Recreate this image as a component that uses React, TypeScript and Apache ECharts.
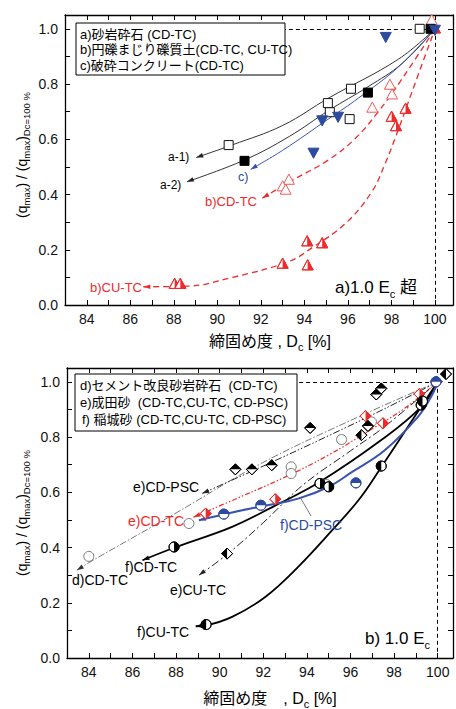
import React, { useEffect, useRef } from "react";
import * as echarts from "echarts";

type Pt = [number, number];

const FONT = '"Liberation Sans", Arial, "Noto Sans CJK JP", sans-serif';
const RED = "#ef2a2a";
const RED_OPEN = "#f05a5a";
const BLUE = "#2c4a9e";
const BLUE_LINE = "#3852ae";

// axis ticks
const X_MIN = 83;
const Y_MAX = 1.05;

// ---------- panel a) : 1.0 Ec and above ----------
const aSandOpen: Pt[] = [[99.3, 1.0], [96.14, 0.783], [95.08, 0.731], [95.17, 0.698], [96.08, 0.673], [90.52, 0.579]];
const aSandFilled: Pt[] = [[99.8, 1.0], [96.92, 0.769], [91.25, 0.522]];
const cConcrete: Pt[] = [[100.0, 0.998], [97.74, 0.972], [95.55, 0.683], [94.82, 0.67], [94.42, 0.553]];
const bGravelCD: Pt[] = [[99.85, 1.03], [97.93, 0.796], [98.03, 0.761], [97.12, 0.713], [93.29, 0.452], [93.0, 0.428], [93.14, 0.416]];
const bGravelCU: Pt[] = [[100.0, 1.0], [98.65, 0.709], [98.01, 0.68], [98.21, 0.646], [94.13, 0.229], [94.82, 0.222], [94.15, 0.142], [93.0, 0.148], [88.04, 0.075], [88.3, 0.075]];

const curveA1: Pt[] = [[89.03, 0.534], [90.7, 0.58], [93.0, 0.65], [95.13, 0.75], [98.32, 0.89], [100, 1.0]];
const curveA2: Pt[] = [[88.6, 0.446], [91.25, 0.525], [93.3, 0.61], [95.13, 0.705], [96.92, 0.79], [98.5, 0.875], [100, 1.0]];
const curveC: Pt[] = [[91.53, 0.491], [93.0, 0.56], [95.13, 0.675], [96.5, 0.75], [98.32, 0.862], [100, 1.0]];
const curveBCD: Pt[] = [[92.07, 0.387], [93.3, 0.445], [95.1, 0.525], [96.3, 0.6], [97.3, 0.69], [98.5, 0.82], [100, 1.0]];
const curveBCU: Pt[] = [[86.6, 0.066], [88.6, 0.068], [90.7, 0.1], [93.3, 0.158], [94.4, 0.21], [95.9, 0.296], [97.1, 0.41], [97.7, 0.51], [98.2, 0.61], [98.8, 0.74], [100, 1.0]];

// ---------- panel b) : 1.0 Ec ----------
const dCementOpen: Pt[] = [[84.0, 0.368], [88.59, 0.487], [93.28, 0.692], [93.28, 0.668], [94.9, 0.628], [95.59, 0.791], [96.96, 0.855]];
const eNaritaPSC: Pt[] = [[90.72, 0.683], [91.48, 0.683], [92.39, 0.698], [94.15, 0.833], [97.18, 0.954], [97.41, 0.976], [96.8, 0.84], [99.95, 1.0]];
const eNaritaCU: Pt[] = [[90.34, 0.378], [96.5, 0.807], [100.38, 1.028]];
const eNaritaCD: Pt[] = [[89.36, 0.523], [92.55, 0.575], [96.69, 0.876], [97.49, 0.85], [99.16, 0.956], [99.92, 1.0]];
const fInagiCD: Pt[] = [[87.91, 0.402], [94.6, 0.632], [95.0, 0.62], [99.24, 0.916]];
const fInagiCU: Pt[] = [[89.38, 0.121], [97.41, 0.695], [99.3, 0.93]];
const fInagiPSC: Pt[] = [[90.19, 0.521], [91.89, 0.553], [96.25, 0.634], [99.92, 1.0]];

const curveEPSC: Pt[] = [[89.2, 0.596], [92.0, 0.695], [95.0, 0.805], [97.5, 0.9], [100, 1.0]];
const curveDCD: Pt[] = [[83.45, 0.318], [84.0, 0.345], [88.0, 0.525], [91.8, 0.7], [96.0, 0.86], [100, 1.0]];
const curveECD: Pt[] = [[88.8, 0.51], [91.0, 0.585], [93.0, 0.655], [95.0, 0.735], [97.0, 0.83], [98.5, 0.905], [100, 1.0]];
const curveECU: Pt[] = [[89.05, 0.3], [90.34, 0.375], [92.0, 0.49], [93.8, 0.625], [96.0, 0.75], [97.6, 0.84], [100, 1.0]];
const curveFCD: Pt[] = [[86.46, 0.354], [88.0, 0.402], [90.57, 0.475], [92.5, 0.55], [94.6, 0.638], [97.41, 0.789], [99.24, 0.909], [100, 1.0]];
const curveFPSC: Pt[] = [[89.05, 0.499], [90.57, 0.527], [92.0, 0.55], [93.6, 0.577], [95.0, 0.62], [96.04, 0.672], [97.57, 0.752], [99.09, 0.873], [99.7, 0.946], [100, 1.0]];
const curveFCU: Pt[] = [[88.9, 0.115], [89.36, 0.118], [90.57, 0.149], [92.09, 0.221], [93.6, 0.33], [95.13, 0.46], [96.4, 0.575], [97.4, 0.69], [99.2, 0.905], [100, 1.0]];

type Shape = "square" | "circle" | "diamond" | "triUp" | "triDown";
type Half = "none" | "full" | "left" | "right" | "top" | "bottom";

function markerSeries(data: Pt[], grid: number, shape: Shape, half: Half, fill: string, stroke: string, size: number) {
  return {
    type: "custom",
    xAxisIndex: grid * 2,
    yAxisIndex: grid * 2,
    data,
    z: 6,
    silent: true,
    renderItem: (_p: any, api: any) => {
      const c = api.coord([api.value(0), api.value(1)]);
      const cx = c[0];
      const cy = c[1];
      const r = size / 2;
      const base = { fill: half === "full" ? fill : "#fff", stroke, lineWidth: 1 };
      const kids: any[] = [];
      if (shape === "circle") {
        kids.push({ type: "circle", shape: { cx, cy, r }, style: base });
        if (half !== "none" && half !== "full") {
          const ang: Record<string, number[]> = {
            right: [-Math.PI / 2, Math.PI / 2],
            left: [Math.PI / 2, Math.PI * 1.5],
            top: [Math.PI, Math.PI * 2],
            bottom: [0, Math.PI],
          };
          const a = ang[half];
          kids.push({ type: "sector", shape: { cx, cy, r0: 0, r, startAngle: a[0], endAngle: a[1], clockwise: true }, style: { fill } });
          kids.push({ type: "circle", shape: { cx, cy, r }, style: { fill: "none", stroke, lineWidth: 1 } });
        }
      } else if (shape === "square") {
        kids.push({ type: "rect", shape: { x: cx - r, y: cy - r, width: size, height: size }, style: base });
      } else {
        let pts: number[][];
        let halfPts: number[][] | null = null;
        if (shape === "diamond") {
          const T = [cx, cy - r], R = [cx + r, cy], B = [cx, cy + r], L = [cx - r, cy];
          pts = [T, R, B, L];
          const hp: Record<string, number[][]> = { top: [L, T, R], bottom: [L, B, R], left: [T, L, B], right: [T, R, B] };
          halfPts = hp[half] || null;
        } else if (shape === "triUp") {
          const T = [cx, cy - r * 1.1], BR = [cx + r, cy + r * 0.75], BL = [cx - r, cy + r * 0.75], BM = [cx, cy + r * 0.75];
          pts = [T, BR, BL];
          halfPts = half === "right" ? [T, BR, BM] : half === "left" ? [T, BL, BM] : null;
        } else {
          pts = [[cx - r, cy - r * 0.75], [cx + r, cy - r * 0.75], [cx, cy + r * 1.1]];
        }
        kids.push({ type: "polygon", shape: { points: pts }, style: base });
        if (halfPts) {
          kids.push({ type: "polygon", shape: { points: halfPts }, style: { fill } });
          kids.push({ type: "polygon", shape: { points: pts }, style: { fill: "none", stroke, lineWidth: 1 } });
        }
      }
      return { type: "group", children: kids };
    },
  };
}

function curveSeries(data: Pt[], grid: number, color: string, width: number, dash: any) {
  return {
    type: "line",
    xAxisIndex: grid * 2,
    yAxisIndex: grid * 2,
    data,
    smooth: 0.4,
    symbol: "none",
    showSymbol: false,
    silent: true,
    z: 3,
    lineStyle: { color, width, type: dash },
  };
}

// arrow head at the first point of a curve, pointing away from the second point
function arrowSeries(curve: Pt[], grid: number, color: string) {
  return {
    type: "custom",
    xAxisIndex: grid * 2,
    yAxisIndex: grid * 2,
    data: [[curve[0][0], curve[0][1], curve[1][0], curve[1][1]]],
    z: 4,
    silent: true,
    renderItem: (_p: any, api: any) => {
      const tip = api.coord([api.value(0), api.value(1)]);
      const nxt = api.coord([api.value(2), api.value(3)]);
      let dx = nxt[0] - tip[0];
      let dy = nxt[1] - tip[1];
      const l = Math.hypot(dx, dy) || 1;
      dx /= l;
      dy /= l;
      const len = 7, w = 2.3;
      const bx = tip[0] + dx * len, by = tip[1] + dy * len;
      return {
        type: "polygon",
        shape: { points: [tip, [bx - dy * w, by + dx * w], [bx + dy * w, by - dx * w]] },
        style: { fill: color },
      };
    },
  };
}

function refLines(grid: number, fromX: number) {
  return {
    type: "line",
    xAxisIndex: grid * 2,
    yAxisIndex: grid * 2,
    data: [],
    silent: true,
    markLine: {
      silent: true,
      symbol: ["none", "none"],
      label: { show: false },
      lineStyle: { type: [4, 3], color: "#000", width: 1 },
      data: [
        [{ coord: [fromX, 1] }, { coord: [100, 1] }],
        [{ coord: [100, 1] }, { coord: [100, 0] }],
      ],
    },
  };
}

function xAx(grid: number, position: string, max: number) {
  const bottom = position === "bottom";
  return {
    type: "value",
    gridIndex: grid,
    position,
    min: X_MIN,
    max,
    interval: 1,
    axisLine: { show: true, onZero: false, lineStyle: { color: "#000", width: 1.3 } },
    axisTick: { show: true, inside: true, length: 5, lineStyle: { color: "#000", width: 1 } },
    splitLine: { show: false },
    axisLabel: bottom
      ? {
          show: true,
          color: "#111",
          fontSize: 14,
          fontFamily: FONT,
          margin: 7,
          formatter: (v: number) => (Math.abs(v - Math.round(v)) < 1e-6 && Math.round(v) % 2 === 0 ? String(Math.round(v)) : ""),
        }
      : { show: false },
  };
}

function yAx(grid: number, position: string) {
  const left = position === "left";
  return {
    type: "value",
    gridIndex: grid,
    position,
    min: 0,
    max: Y_MAX,
    interval: 0.1,
    axisLine: { show: true, onZero: false, lineStyle: { color: "#000", width: 1.3 } },
    axisTick: { show: true, inside: true, length: 5, lineStyle: { color: "#000", width: 1 } },
    splitLine: { show: false },
    axisLabel: left
      ? {
          show: true,
          color: "#111",
          fontSize: 14,
          fontFamily: FONT,
          margin: 7,
          formatter: (v: number) => {
            const k = Math.round(v * 10);
            return Math.abs(v * 10 - k) < 1e-6 && k % 2 === 0 ? (k / 10).toFixed(1) : "";
          },
        }
      : { show: false },
  };
}

function label(text: string, x: number, y: number, color: string, size: number) {
  return {
    type: "text",
    x,
    y,
    z: 100,
    silent: true,
    style: { text, fill: color, fontSize: size, fontFamily: FONT, align: "left", verticalAlign: "middle" },
  };
}

function richText(text: string, x: number, y: number, size: number, subSize: number, lineHeight: number, align: string, rotation = 0) {
  return {
    type: "text",
    x,
    y,
    rotation,
    z: 100,
    silent: true,
    style: {
      text,
      fill: "#000",
      fontSize: size,
      fontFamily: FONT,
      lineHeight,
      align,
      verticalAlign: "middle",
      rich: { s: { fontSize: subSize, fontFamily: FONT, verticalAlign: "bottom", fill: "#000" } },
    },
  };
}

const legendA = ["a)砂岩砕石 (CD-TC)", "b)円礫まじり礫質土(CD-TC, CU-TC)", "c)破砕コンクリート(CD-TC)"];
const legendB = ["d)セメント改良砂岩砕石  (CD-TC)", "e)成田砂  (CD-TC,CU-TC, CD-PSC)", "f) 稲城砂 (CD-TC,CU-TC, CD-PSC)"];

export default function App() {
  const ref = useRef<HTMLDivElement>(null);

  useEffect(() => {
    if (!ref.current) return;
    const chart = echarts.init(ref.current, undefined, { renderer: "svg" });

    const series: any[] = [
      refLines(0, 92),
      refLines(1, 93),
      // panel a) trend curves
      curveSeries(curveA1, 0, "#333", 1, "solid"),
      curveSeries(curveA2, 0, "#333", 1, "solid"),
      curveSeries(curveC, 0, BLUE_LINE, 1, "solid"),
      curveSeries(curveBCD, 0, RED, 1.3, [6, 4]),
      curveSeries(curveBCU, 0, RED, 1.3, [6, 4]),
      arrowSeries(curveA1, 0, "#222"),
      arrowSeries(curveA2, 0, "#222"),
      arrowSeries(curveC, 0, BLUE_LINE),
      arrowSeries(curveBCD, 0, RED),
      arrowSeries(curveBCU, 0, RED),
      // panel a) points
      markerSeries(bGravelCU, 0, "triUp", "right", RED, RED, 11),
      markerSeries(bGravelCD, 0, "triUp", "none", RED_OPEN, RED_OPEN, 11),
      markerSeries(aSandOpen, 0, "square", "none", "#fff", "#111", 9),
      markerSeries(aSandFilled, 0, "square", "full", "#000", "#000", 9),
      markerSeries(cConcrete, 0, "triDown", "full", BLUE, BLUE, 11),
      // panel b) trend curves
      curveSeries(curveDCD, 1, "#555", 0.8, [7, 2, 1.5, 2]),
      curveSeries(curveEPSC, 1, "#222", 1, [7, 2, 1.5, 2, 1.5, 2]),
      curveSeries(curveECD, 1, RED, 1.2, [5, 2, 1.5, 2, 1.5, 2]),
      curveSeries(curveECU, 1, "#222", 1, [8, 3, 2, 3]),
      curveSeries(curveFCD, 1, "#000", 1.8, "solid"),
      curveSeries(curveFCU, 1, "#000", 1.8, "solid"),
      curveSeries(curveFPSC, 1, BLUE_LINE, 2, "solid"),
      arrowSeries(curveDCD, 1, "#333"),
      arrowSeries(curveEPSC, 1, "#222"),
      arrowSeries(curveECD, 1, RED),
      arrowSeries(curveECU, 1, "#222"),
      arrowSeries(curveFCD, 1, "#000"),
      arrowSeries(curveFCU, 1, "#000"),
      arrowSeries(curveFPSC, 1, BLUE_LINE),
      // panel b) points
      markerSeries(dCementOpen, 1, "circle", "none", "#fff", "#777", 10),
      markerSeries(eNaritaPSC, 1, "diamond", "top", "#000", "#000", 11),
      markerSeries(eNaritaCU, 1, "diamond", "left", "#000", "#000", 11),
      markerSeries(eNaritaCD, 1, "diamond", "right", RED, RED, 11),
      markerSeries(fInagiCD, 1, "circle", "right", "#000", "#000", 10),
      markerSeries(fInagiCU, 1, "circle", "left", "#000", "#000", 10),
      markerSeries(fInagiPSC, 1, "circle", "top", BLUE, BLUE, 10),
    ];

    const yName = "(q{s|max}) / (q{s|max}){s|Dc=100 %}";

    const graphic: any[] = [
      // legend boxes
      { type: "rect", z: 99, silent: true, shape: { x: 76, y: 23, width: 209, height: 52 }, style: { fill: "#fff", stroke: "#000", lineWidth: 1 } },
      ...legendA.map((t, i) => label(t, 80, 34 + i * 15.5, "#000", 13)),
      { type: "rect", z: 99, silent: true, shape: { x: 75, y: 374, width: 222, height: 57 }, style: { fill: "#fff", stroke: "#000", lineWidth: 1 } },
      ...legendB.map((t, i) => label(t, i === 2 ? 82 : 80, 385 + i * 17, "#000", 13)),
      // axis titles
      richText(yName, 22, 155, 14, 9.5, 18, "center", Math.PI / 2),
      richText(yName, 22, 513, 14, 9.5, 18, "center", Math.PI / 2),
      richText("締固め度 , D{s|c} [%]", 270, 341, 16, 11, 22, "center"),
      richText("締固め度　, D{s|c} [%]", 270, 698, 16, 11, 22, "center"),
      // panel titles
      richText("a)1.0 E{s|c} 超", 335, 287, 17, 11, 24, "left"),
      richText("b) 1.0 E{s|c}", 365, 638, 17, 11, 24, "left"),
      // curve annotations, panel a)
      label("a-1)", 168, 157, "#000", 12),
      label("a-2)", 160, 185, "#000", 12),
      label("c)", 238, 177, BLUE, 12.5),
      label("b)CD-TC", 205, 201, RED, 13),
      label("b)CU-TC", 90, 287, RED, 13),
      // curve annotations, panel b)
      label("e)CD-PSC", 133, 487, "#000", 14),
      label("e)CD-TC", 128, 521, RED, 14),
      label("d)CD-TC", 72, 580, "#000", 14),
      label("f)CD-TC", 125, 567, "#000", 14),
      label("e)CU-TC", 170, 590, "#000", 14),
      label("f)CU-TC", 137, 632, "#000", 14),
      label("f)CD-PSC", 280, 525, BLUE, 14),
      { type: "line", z: 100, silent: true, shape: { x1: 311, y1: 516, x2: 300, y2: 497 }, style: { stroke: "#555", lineWidth: 0.8 } },
    ];

    chart.setOption({
      animation: false,
      backgroundColor: "#fff",
      textStyle: { fontFamily: FONT },
      grid: [
        { left: 65, top: 15, width: 390, height: 290 },
        { left: 67, top: 368, width: 388, height: 290 },
      ],
      xAxis: [xAx(0, "bottom", 100.83), xAx(0, "top", 100.83), xAx(1, "bottom", 100.7), xAx(1, "top", 100.7)],
      yAxis: [yAx(0, "left"), yAx(0, "right"), yAx(1, "left"), yAx(1, "right")],
      series,
      graphic,
    });

    return () => chart.dispose();
  }, []);

  return <div ref={ref} style={{ position: "absolute", left: 0, top: 0, width: 456, height: 709 }} />;
}
